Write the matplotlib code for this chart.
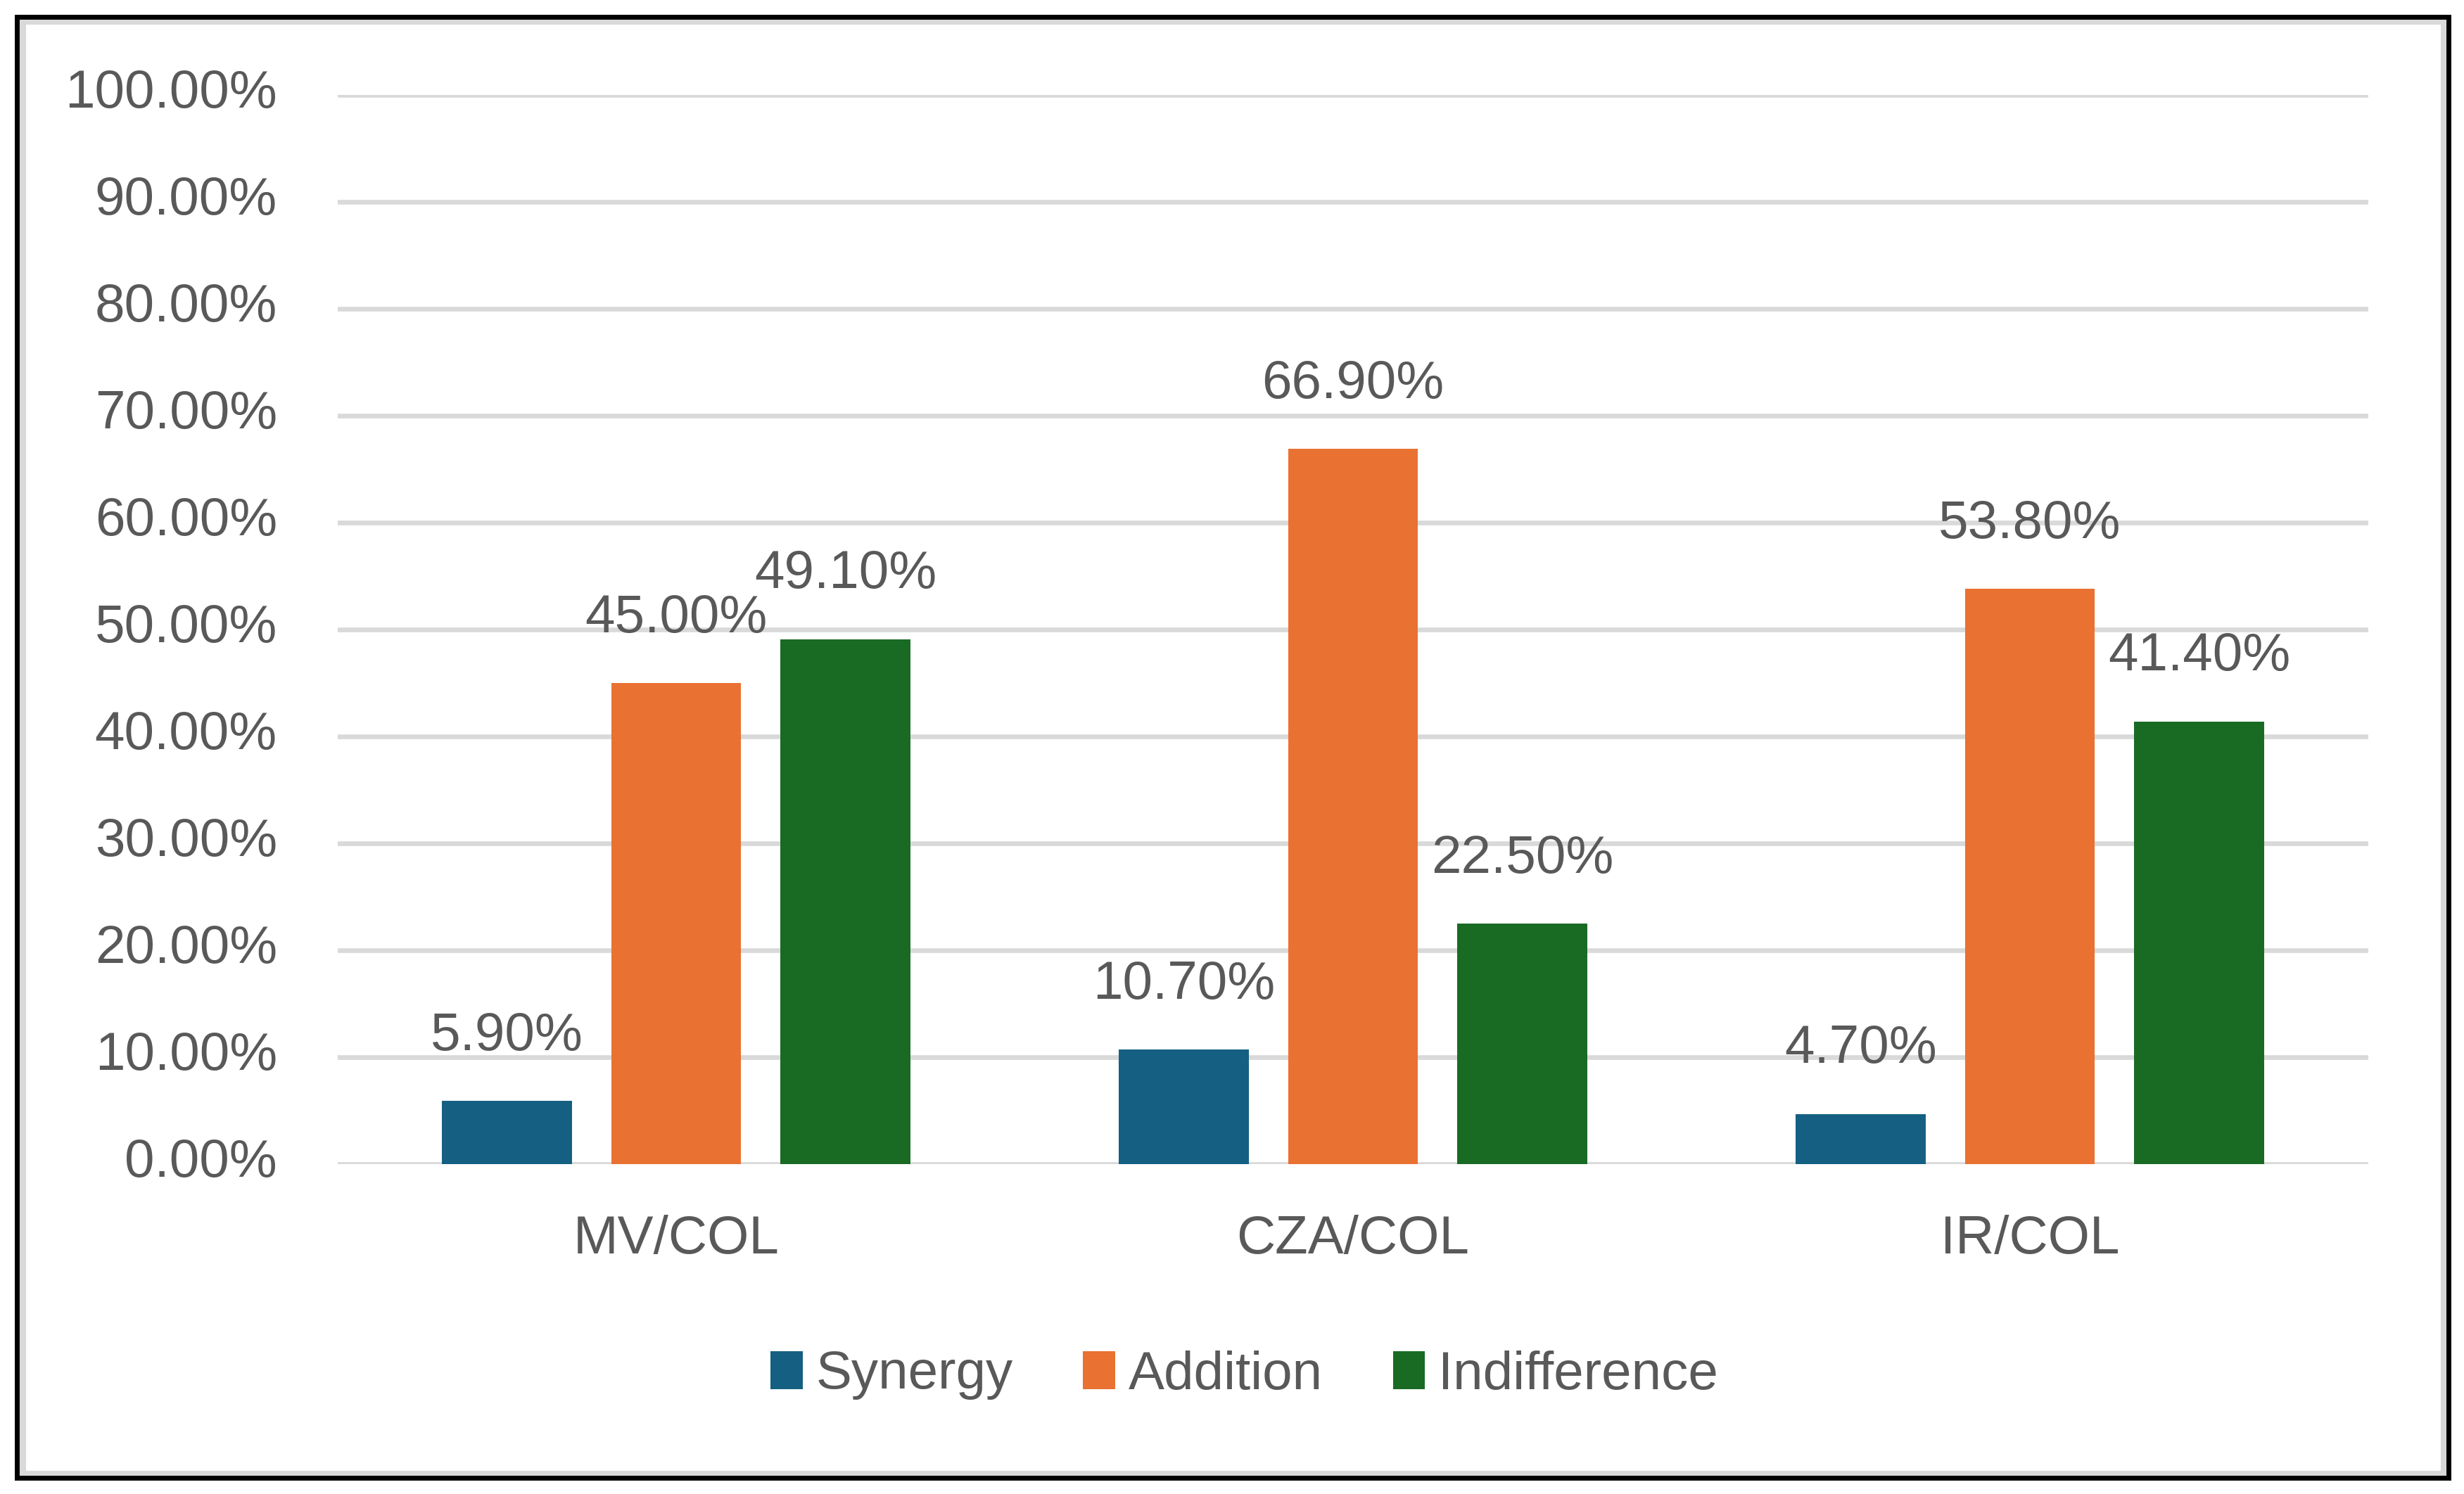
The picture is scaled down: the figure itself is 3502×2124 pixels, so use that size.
import numpy as np
import matplotlib
matplotlib.use("Agg")
import matplotlib.pyplot as plt
import matplotlib.transforms as mtransforms
from matplotlib.patches import Rectangle, Patch

categories = ["MV/COL", "CZA/COL", "IR/COL"]
series_names = ["Synergy", "Addition", "Indifference"]
synergy = [5.9, 10.7, 4.7]
addition = [45.0, 66.9, 53.8]
indifference = [49.1, 22.5, 41.4]
y_ticks = [0, 10, 20, 30, 40, 50, 60, 70, 80, 90, 100]

_COLORS = ["#156082", "#E97132", "#196B24"]
_TEXT = "#595959"
_GRID = "#D9D9D9"
_FONT = 55  # pt at dpi 100

plt.rcParams['font.family'] = ['Liberation Sans', 'DejaVu Sans']

W, H = 3502, 2124
fig = plt.figure(figsize=(W / 100, H / 100), dpi=100)

# axes box in pixels: left 480, right 3366, top 135, bottom 1655
ax = fig.add_axes([480 / W, 1 - 1655 / H, (3366 - 480) / W, (1655 - 135) / H])

x = np.arange(len(categories))
bar_w = 0.192
pitch = 0.25
all_series = [synergy, addition, indifference]
for i, vals in enumerate(all_series):
    pos = x + (i - 1) * pitch
    bars = ax.bar(pos, vals, width=bar_w, color=_COLORS[i], zorder=3, label=series_names[i])
    for b, v in zip(bars, vals):
        ax.annotate("{:.2f}%".format(v), (b.get_x() + b.get_width() / 2, v),
                    xytext=(0, 52), textcoords="offset points",
                    ha="center", va="baseline", fontsize=_FONT, color=_TEXT)

ax.set_xlim(-0.5, len(categories) - 0.5)
ax.set_ylim(0, 100)
ax.set_yticks(y_ticks)
ax.set_yticklabels(["{:.2f}%".format(t) for t in y_ticks])
ax.set_xticks(x)
ax.set_xticklabels(categories)
ax.tick_params(axis="y", length=0, pad=62, labelsize=_FONT, labelcolor=_TEXT)
ax.tick_params(axis="x", length=0, pad=52, labelsize=_FONT, labelcolor=_TEXT)
# excel puts the value labels a touch above their gridline
shift = mtransforms.ScaledTranslation(0, 7 / 72, fig.dpi_scale_trans)
for lbl in ax.get_yticklabels():
    lbl.set_transform(lbl.get_transform() + shift)
for s in ax.spines.values():
    s.set_visible(False)
ax.yaxis.grid(True, color=_GRID, linewidth=4.8, zorder=0)
ax.set_axisbelow(True)
ax.set_facecolor("none")

handles = [Patch(facecolor=c, edgecolor="none") for c in _COLORS]
fig.legend(handles, series_names, loc="center", bbox_to_anchor=(0.505, 1 - 1955 / H),
           ncol=3, frameon=False, fontsize=_FONT, labelcolor=_TEXT,
           handlelength=0.6, handleheight=0.7, handletextpad=0.25, columnspacing=1.3)

# chart area border (grey) and picture frame (black)
fig.patches.append(Rectangle((31.5 / W, 1 - 2094.5 / H), (3473 - 31.5) / W, (2094.5 - 29.5) / H,
                             transform=fig.transFigure, fill=False, edgecolor=_GRID, linewidth=6.5))
fig.patches.append(Rectangle((24 / W, 1 - 2101 / H), (3480 - 24) / W, (2101 - 24) / H,
                             transform=fig.transFigure, fill=False, edgecolor="black", linewidth=5))

fig.savefig("out.png", dpi=100, facecolor="white")
